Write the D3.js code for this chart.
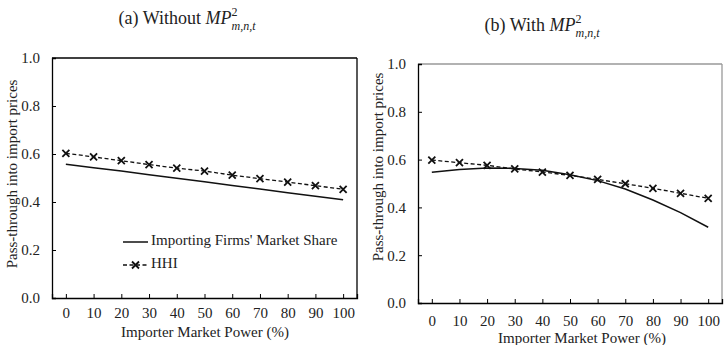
<!DOCTYPE html>
<html>
<head>
<meta charset="utf-8">
<script src="https://cdn.jsdelivr.net/npm/d3@7"></script>
<style>
  body { margin: 0; background: #fff; }
  text { font-family: "Liberation Serif", "Times New Roman", serif; fill: #222; }
</style>
</head>
<body>
<div id="chart"></div>
<script>
// data
var power = [0, 10, 20, 30, 40, 50, 60, 70, 80, 90, 100];
var yTicks = [0.0, 0.2, 0.4, 0.6, 0.8, 1.0];

// (a) without MP^2
var shareA = [0.557, 0.543, 0.529, 0.514, 0.499, 0.484, 0.469, 0.454, 0.439, 0.424, 0.409];
var hhiA   = [0.603, 0.588, 0.572, 0.556, 0.541, 0.529, 0.512, 0.497, 0.483, 0.468, 0.453];

// (b) with MP^2
var shareB = [0.547, 0.559, 0.565, 0.563, 0.555, 0.537, 0.512, 0.477, 0.431, 0.378, 0.317];
var hhiB   = [0.598, 0.587, 0.576, 0.561, 0.548, 0.534, 0.517, 0.499, 0.480, 0.459, 0.438];

var svgWidth = 724, svgHeight = 345;
var serif = "Liberation Serif";

var svg = d3.select("#chart")
  .append("svg")
  .attr("width", svgWidth)
  .attr("height", svgHeight);

function drawPanel(p) {
  var width = p.right - p.left;
  var height = p.bottom - p.top;

  var g = svg.append("g")
    .attr("transform", `translate(${p.left},${p.top})`);

  var xScale = d3.scalePoint()
    .domain(power)
    .range([0, width])
    .padding(0.5);

  var yScale = d3.scaleLinear()
    .domain([0, 1])
    .range([height, 0]);

  // frame: top and right
  g.append("line").attr("x1", 0).attr("x2", width).attr("y1", 0).attr("y2", 0)
    .attr("stroke", p.frame).attr("stroke-width", 1.3);
  g.append("line").attr("x1", width).attr("x2", width).attr("y1", 0).attr("y2", height)
    .attr("stroke", p.frame).attr("stroke-width", 1.3);

  // y axis, ticks pointing in
  var yAxis = d3.axisLeft(yScale)
    .tickValues(yTicks)
    .tickSize(-4)
    .tickPadding(12)
    .tickFormat(d3.format(".1f"));

  var ya = g.append("g").call(yAxis)
    .attr("font-family", serif).attr("font-size", 15);
  ya.select(".domain").attr("stroke", "#000").attr("stroke-width", 1.3);
  ya.selectAll(".tick line").attr("stroke", "#000");
  ya.selectAll("text").attr("fill", "#222");

  // x axis, ticks pointing up
  var xAxis = d3.axisBottom(xScale)
    .tickSize(-4)
    .tickPadding(p.xPad);

  var xa = g.append("g")
    .attr("transform", `translate(0,${height})`)
    .call(xAxis)
    .attr("font-family", serif).attr("font-size", 15);
  xa.select(".domain").attr("stroke", "#000").attr("stroke-width", 1.3);
  xa.selectAll(".tick line").attr("stroke", "#000");
  xa.selectAll("text").attr("fill", "#222");

  var line = d3.line()
    .x((d, i) => xScale(power[i]))
    .y(d => yScale(d));

  // importing firms' market share
  g.append("path")
    .datum(p.share)
    .attr("d", line)
    .attr("fill", "none")
    .attr("stroke", "#111")
    .attr("stroke-width", 1.5);

  // HHI
  g.append("path")
    .datum(p.hhi)
    .attr("d", line)
    .attr("fill", "none")
    .attr("stroke", "#111")
    .attr("stroke-width", 1.3)
    .attr("stroke-dasharray", "4,2.5");

  g.selectAll(".mark")
    .data(p.hhi)
    .enter()
    .append("path")
    .attr("class", "mark")
    .attr("transform", (d, i) => `translate(${xScale(power[i])},${yScale(d)})`)
    .attr("d", "M-3.5,-3.5L3.5,3.5M-3.5,3.5L3.5,-3.5")
    .attr("stroke", "#111")
    .attr("stroke-width", 1.8);

  // y label
  svg.append("text")
    .attr("transform", "rotate(-90)")
    .attr("x", -p.yLabelY)
    .attr("y", p.yLabelX)
    .attr("text-anchor", "middle")
    .attr("dominant-baseline", "middle")
    .attr("font-size", 15)
    .text("Pass-through into import prices");

  // x label
  svg.append("text")
    .attr("x", p.xLabelX)
    .attr("y", p.xLabelY)
    .attr("text-anchor", "middle")
    .attr("font-size", 15)
    .text("Importer Market Power (%)");

  // panel title
  var t = svg.append("text")
    .attr("x", p.titleX)
    .attr("y", p.titleY)
    .attr("text-anchor", "middle")
    .attr("font-size", 18);
  t.append("tspan").text(p.title + " ");
  t.append("tspan").attr("font-style", "italic").text("MP");
  t.append("tspan").attr("font-size", 12).attr("dy", -8).text("2");
  t.append("tspan").attr("font-size", 12).attr("font-style", "italic")
    .attr("dx", -6).attr("dy", 14).text("m,n,t");

  return g;
}

drawPanel({
  left: 52, right: 357, top: 58, bottom: 298, frame: "#000",
  share: shareA, hhi: hhiA, xPad: 9,
  yLabelX: 14, yLabelY: 174,
  xLabelX: 205, xLabelY: 337,
  titleX: 187, titleY: 24, title: "(a) Without"
});

drawPanel({
  left: 418, right: 722, top: 64, bottom: 303, frame: "#999",
  share: shareB, hhi: hhiB, xPad: 12,
  yLabelX: 380, yLabelY: 167,
  xLabelX: 582, xLabelY: 343,
  titleX: 542, titleY: 31, title: "(b) With"
});

// legend in panel (a)
var legend = svg.append("g");
legend.append("line")
  .attr("x1", 123).attr("x2", 148).attr("y1", 242).attr("y2", 242)
  .attr("stroke", "#111").attr("stroke-width", 1.5);
legend.append("text")
  .attr("x", 151).attr("y", 242)
  .attr("dominant-baseline", "middle")
  .attr("font-size", 15)
  .text("Importing Firms' Market Share");

legend.append("line")
  .attr("x1", 123).attr("x2", 148).attr("y1", 265).attr("y2", 265)
  .attr("stroke", "#111").attr("stroke-width", 1.3)
  .attr("stroke-dasharray", "4,2.5");
legend.append("path")
  .attr("transform", "translate(135.5,265)")
  .attr("d", "M-3.5,-3.5L3.5,3.5M-3.5,3.5L3.5,-3.5")
  .attr("stroke", "#111").attr("stroke-width", 1.8);
legend.append("text")
  .attr("x", 151).attr("y", 265)
  .attr("dominant-baseline", "middle")
  .attr("font-size", 15)
  .text("HHI");
</script>
</body>
</html>
